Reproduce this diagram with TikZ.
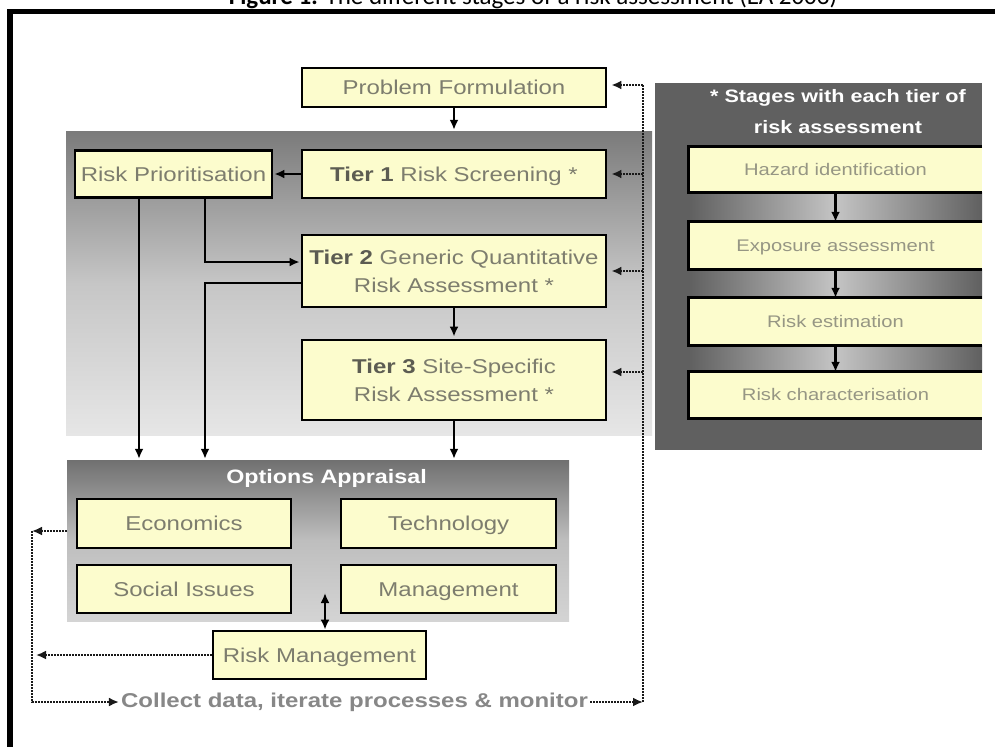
\documentclass[tikz,border=0pt]{standalone}
\usepackage{fontspec}
\setmainfont{Liberation Sans}[FakeStretch=1.2]
\newfontfamily\titlefont{Carlito}
\usetikzlibrary{arrows.meta,calc}
\definecolor{boxfill}{RGB}{252,252,205}
\definecolor{txtgray}{RGB}{125,125,110}
\definecolor{txtdark}{RGB}{92,92,82}
\definecolor{rtxt}{RGB}{150,150,132}
\definecolor{panelR}{RGB}{96,96,96}
\definecolor{bandlight}{RGB}{196,196,196}
\definecolor{tpTop}{RGB}{122,122,122}
\definecolor{tpMid}{RGB}{198,198,198}
\definecolor{tpBot}{RGB}{230,230,230}
\definecolor{opTop}{RGB}{112,112,112}
\definecolor{opMid}{RGB}{190,190,190}
\definecolor{opBot}{RGB}{212,212,212}
\definecolor{collgray}{RGB}{135,135,135}
\tikzset{
  ybox/.style={draw=black, line width=2.8pt, fill=boxfill, inner sep=0pt, text=txtgray,
    font=\fontsize{20}{28}\selectfont, align=center},
  sline/.style={text height=18pt, text depth=4pt},
  rbox/.style={fill=boxfill, inner sep=0pt, text=rtxt, minimum width=293pt,
    text height=14pt, text depth=3pt, font=\fontsize{16.8}{20}\selectfont},
  rborder/.style={line width=2.8pt, black},
  band/.style={inner sep=0pt, minimum width=293pt, left color=panelR, right color=panelR, middle color=bandlight},
  arr/.style={line width=2.8pt, black, -{Latex[length=10pt,width=9pt]}},
  dblarr/.style={line width=2.8pt, black, {Latex[length=10pt,width=9pt]}-{Latex[length=10pt,width=9pt]}},
  dotln/.style={line width=2.8pt, black!90, dash pattern=on 2pt off 1pt},
  dotarr/.style={dotln, -{Latex[length=10pt,width=9pt]}},
}
\begin{document}
\begin{tikzpicture}[x=1pt,y=-1pt]
\useasboundingbox (0,0) rectangle (995,747);
\fill[white] (0,0) rectangle (995,747);
% title and frame
\node[anchor=base, inner sep=0pt, font=\titlefont\fontsize{25}{30}\selectfont] (title) at (533,4.5)
  {\textbf{Figure 1:} The different stages of a risk assessment (EA 2003)};
\draw[line width=5pt] (7,11.5) -- (995,11.5);
\draw[line width=6pt] (10,9) -- (10,747);

% panels
\node[inner sep=0pt, minimum width=586pt, minimum height=304pt,
  top color=tpTop, bottom color=tpBot, middle color=tpMid] (tierpanel) at (359,283) {};
\node[inner sep=0pt, minimum width=502pt, minimum height=161pt,
  top color=opTop, bottom color=opBot, middle color=opMid] (opanel) at (318,540.5) {};
\node[inner sep=0pt, minimum width=327pt, minimum height=367pt, fill=panelR] (rpanel) at (818.5,266.5) {};

% right panel content
\node[band, minimum height=30pt] (b1) at (835.5,207) {};
\node[band, minimum height=29pt] (b2) at (835.5,283.5) {};
\node[band, minimum height=27pt] (b3) at (835.5,358.5) {};
\node[font=\bfseries\fontsize{18}{31}\selectfont, text=white, align=center] (hdr) at (838,112)
  {* Stages with each tier of\\risk assessment};
\node[rbox, minimum height=45pt] (hz) at (835.5,169.5) {Hazard identification};
\node[rbox, minimum height=47pt] (ex) at (835.5,245.5) {Exposure assessment};
\node[rbox, minimum height=47pt] (es) at (835.5,321.5) {Risk estimation};
\node[rbox, minimum height=46pt] (rc) at (835.5,395) {Risk characterisation};
\foreach \b in {hz,ex,es,rc}{
  \draw[rborder] (\b.north east) -- (\b.north west) -- (\b.south west) -- (\b.south east);
}
\draw[arr] (hz.south) -- (ex.north);
\draw[arr] (ex.south) -- (es.north);
\draw[arr] (es.south) -- (rc.north);

% tier boxes
\node[ybox, sline, minimum width=304pt, minimum height=39pt] (pf) at (454,87.5) {Problem Formulation};
\node[ybox, sline, minimum width=304pt, minimum height=48pt] (t1) at (454,174)
  {{\bfseries\color{txtdark}Tier 1} Risk Screening *};
\node[ybox, minimum width=304pt, minimum height=72pt] (t2) at (454,271)
  {{\bfseries\color{txtdark}Tier 2} Generic Quantitative\\Risk Assessment *};
\node[ybox, minimum width=304pt, minimum height=80pt] (t3) at (454,380)
  {{\bfseries\color{txtdark}Tier 3} Site-Specific\\Risk Assessment *};
\node[ybox, sline, minimum width=197pt, minimum height=47pt] (rp) at (173.5,174) {Risk Prioritisation};

% options appraisal
\node[font=\bfseries\fontsize{19.4}{24}\selectfont, text=white] (oat) at (326.5,478) {Options Appraisal};
\node[ybox, sline, minimum width=214pt, minimum height=49pt] (eco) at (184,523.5) {Economics};
\node[ybox, sline, minimum width=215pt, minimum height=49pt] (tech) at (448.5,523.5) {Technology};
\node[ybox, sline, minimum width=214pt, minimum height=48pt] (soc) at (184,589) {Social Issues};
\node[ybox, sline, minimum width=215pt, minimum height=48pt] (mgmt) at (448.5,589) {Management};
\node[ybox, sline, minimum width=213pt, minimum height=48pt] (rm) at (319.5,655) {Risk Management};

\node[font=\bfseries\fontsize{20}{24}\selectfont, text=collgray, inner sep=2pt] (collect) at (354.5,702)
  {Collect data, iterate processes \& monitor};

% solid connectors
\coordinate (v1) at (139,197.5);
\coordinate (v2) at (205,197.5);
\coordinate (oa) at (325,593);
\draw[arr, shorten >=1pt] (pf.south) -- (pf.south |- tierpanel.north);
\draw[arr, shorten >=1pt] (t1.west) -- (rp.east);
\draw[arr, shorten >=1pt] (v1) -- (v1 |- opanel.north);
\draw[arr, shorten >=1pt] (v2) |- ($(t2.west)+(0,-9)$);
\draw[arr, shorten >=1pt] ($(t2.west)+(0,12)$) -| (v2 |- opanel.north);
\draw[arr, shorten >=2pt] (t2.south) -- (t3.north);
\draw[arr, shorten >=1pt] (t3.south) -- (t3.south |- opanel.north);
\draw[dblarr] (oa) -- (oa |- rm.north);

% dotted feedback loops
\coordinate (cR) at (643,702);
\coordinate (cTop) at (643,85);
\coordinate (cL1) at (32,531);
\coordinate (cL2) at (32,702);
\draw[dotarr] (collect.east) -- (cR);
\draw[dotln] (cR) -- (cTop);
\draw[dotarr, shorten >=4pt] (cTop) -- (cTop -| pf.east);
\draw[dotarr, shorten >=4pt] (cTop |- t1.east) -- (t1.east);
\draw[dotarr, shorten >=4pt] (cTop |- t2.east) -- (t2.east);
\draw[dotarr, shorten >=4pt] ($(cTop |- t3.east)+(0,-8)$) -- ($(t3.east)+(0,-8)$);
\draw[dotarr] (opanel.west |- cL1) -- (cL1);
\draw[dotarr, shorten >=4pt] (rm.west) -- (rm.west -| cL1);
\draw[dotarr] (cL1) -- (cL2) -- (collect.west);
\end{tikzpicture}
\end{document}
